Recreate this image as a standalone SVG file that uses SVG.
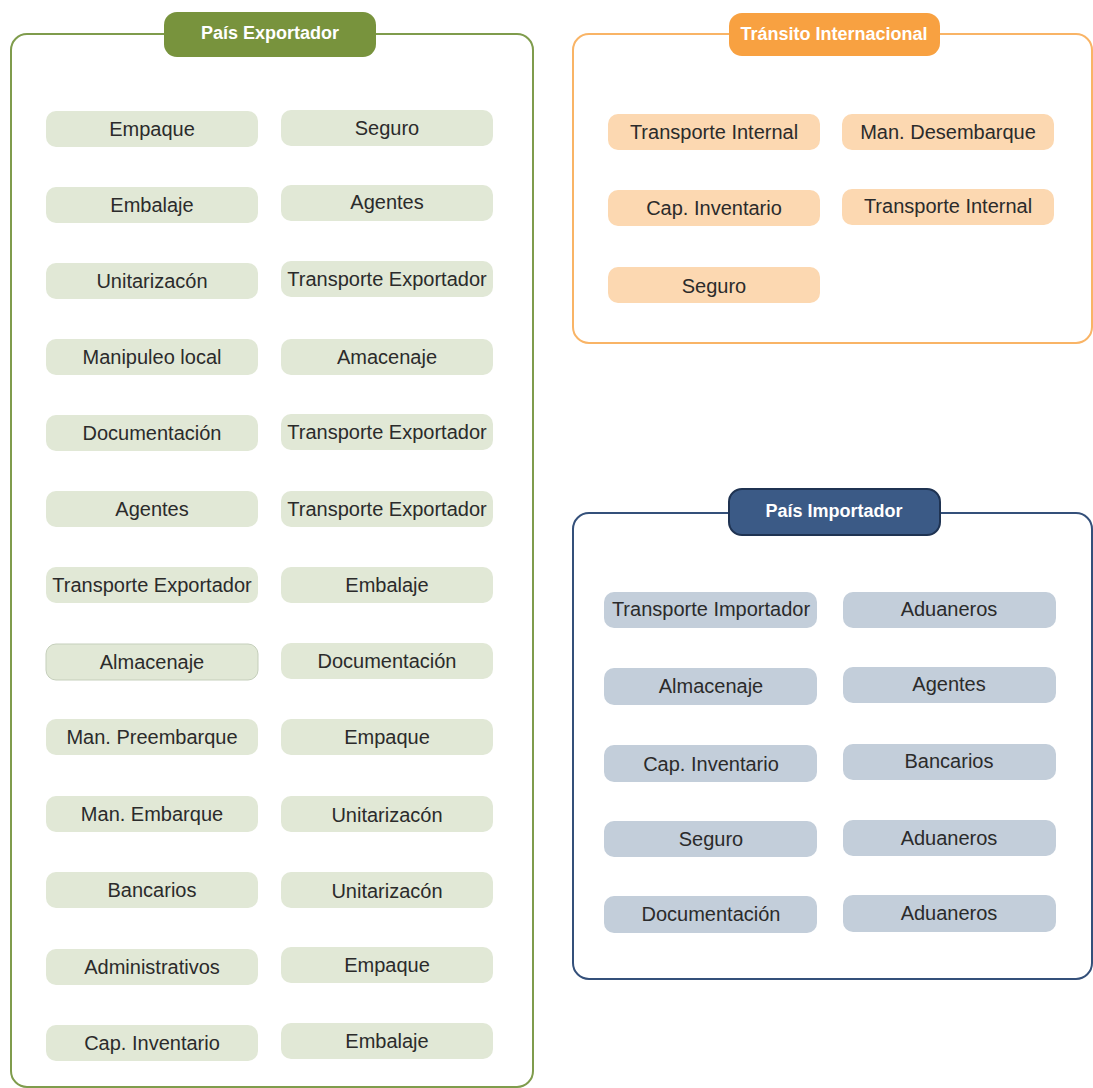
<svg xmlns="http://www.w3.org/2000/svg" width="1093" height="1088" viewBox="0 0 1093 1088">
<style>
.t{font-family:"Liberation Sans",Arial,sans-serif;font-size:20px;fill:#2b2b2b;text-anchor:middle;dominant-baseline:central}
.h{font-family:"Liberation Sans",Arial,sans-serif;font-size:18px;font-weight:bold;fill:#ffffff;text-anchor:middle;dominant-baseline:central}
.g{fill:#e1e8d6}
.o{fill:#fcd8b1}
.b{fill:#c3ceda}
</style>
<rect width="1093" height="1088" fill="#ffffff"/>
<g id="panel-exportador">
<rect x="11" y="34" width="522" height="1053" rx="16" fill="none" stroke="#7f9c4c" stroke-width="2"/>
<rect x="164" y="12" width="212" height="45" rx="13" fill="#78933d"/>
<text class="h" x="270" y="33">País Exportador</text>
</g>
<g id="panel-transito">
<rect x="573" y="34" width="519" height="309" rx="16" fill="none" stroke="#f9b466" stroke-width="2"/>
<rect x="729" y="13" width="211" height="43" rx="13" fill="#f8a141"/>
<text class="h" x="834" y="34">Tránsito Internacional</text>
</g>
<g id="panel-importador">
<rect x="573" y="513" width="519" height="466" rx="16" fill="none" stroke="#34507a" stroke-width="2"/>
<rect x="729" y="489" width="211" height="46" rx="13" fill="#3b5a86" stroke="#1f3352" stroke-width="2"/>
<text class="h" x="834" y="511">País Importador</text>
</g>
<g id="exp-l1"><rect class="g" x="46" y="111" width="212" height="36" rx="10"/><text class="t" x="152" y="129">Empaque</text></g>
<g id="exp-r1"><rect class="g" x="281" y="110" width="212" height="36" rx="10"/><text class="t" x="387" y="128">Seguro</text></g>
<g id="exp-l2"><rect class="g" x="46" y="187" width="212" height="36" rx="10"/><text class="t" x="152" y="205">Embalaje</text></g>
<g id="exp-r2"><rect class="g" x="281" y="185" width="212" height="36" rx="10"/><text class="t" x="387" y="202">Agentes</text></g>
<g id="exp-l3"><rect class="g" x="46" y="263" width="212" height="36" rx="10"/><text class="t" x="152" y="281">Unitarizacón</text></g>
<g id="exp-r3"><rect class="g" x="281" y="261" width="212" height="36" rx="10"/><text class="t" x="387" y="279">Transporte Exportador</text></g>
<g id="exp-l4"><rect class="g" x="46" y="339" width="212" height="36" rx="10"/><text class="t" x="152" y="357">Manipuleo local</text></g>
<g id="exp-r4"><rect class="g" x="281" y="339" width="212" height="36" rx="10"/><text class="t" x="387" y="357">Amacenaje</text></g>
<g id="exp-l5"><rect class="g" x="46" y="415" width="212" height="36" rx="10"/><text class="t" x="152" y="433">Documentación</text></g>
<g id="exp-r5"><rect class="g" x="281" y="414" width="212" height="36" rx="10"/><text class="t" x="387" y="432">Transporte Exportador</text></g>
<g id="exp-l6"><rect class="g" x="46" y="491" width="212" height="36" rx="10"/><text class="t" x="152" y="509">Agentes</text></g>
<g id="exp-r6"><rect class="g" x="281" y="491" width="212" height="36" rx="10"/><text class="t" x="387" y="509">Transporte Exportador</text></g>
<g id="exp-l7"><rect class="g" x="46" y="567" width="212" height="36" rx="10"/><text class="t" x="152" y="585">Transporte Exportador</text></g>
<g id="exp-r7"><rect class="g" x="281" y="567" width="212" height="36" rx="10"/><text class="t" x="387" y="585">Embalaje</text></g>
<g id="exp-l8"><rect class="g" x="46" y="644" width="212" height="36" rx="10" stroke="#c5cfbb" stroke-width="1"/><text class="t" x="152" y="662">Almacenaje</text></g>
<g id="exp-r8"><rect class="g" x="281" y="643" width="212" height="36" rx="10"/><text class="t" x="387" y="661">Documentación</text></g>
<g id="exp-l9"><rect class="g" x="46" y="719" width="212" height="36" rx="10"/><text class="t" x="152" y="737">Man. Preembarque</text></g>
<g id="exp-r9"><rect class="g" x="281" y="719" width="212" height="36" rx="10"/><text class="t" x="387" y="737">Empaque</text></g>
<g id="exp-l10"><rect class="g" x="46" y="796" width="212" height="36" rx="10"/><text class="t" x="152" y="814">Man. Embarque</text></g>
<g id="exp-r10"><rect class="g" x="281" y="796" width="212" height="36" rx="10"/><text class="t" x="387" y="815">Unitarizacón</text></g>
<g id="exp-l11"><rect class="g" x="46" y="872" width="212" height="36" rx="10"/><text class="t" x="152" y="890">Bancarios</text></g>
<g id="exp-r11"><rect class="g" x="281" y="872" width="212" height="36" rx="10"/><text class="t" x="387" y="891">Unitarizacón</text></g>
<g id="exp-l12"><rect class="g" x="46" y="949" width="212" height="36" rx="10"/><text class="t" x="152" y="967">Administrativos</text></g>
<g id="exp-r12"><rect class="g" x="281" y="947" width="212" height="36" rx="10"/><text class="t" x="387" y="965">Empaque</text></g>
<g id="exp-l13"><rect class="g" x="46" y="1025" width="212" height="36" rx="10"/><text class="t" x="152" y="1043">Cap. Inventario</text></g>
<g id="exp-r13"><rect class="g" x="281" y="1023" width="212" height="36" rx="10"/><text class="t" x="387" y="1041">Embalaje</text></g>
<g id="tra-l1"><rect class="o" x="608" y="114" width="212" height="36" rx="10"/><text class="t" x="714" y="132">Transporte Internal</text></g>
<g id="tra-r1"><rect class="o" x="842" y="114" width="212" height="36" rx="10"/><text class="t" x="948" y="132">Man. Desembarque</text></g>
<g id="tra-l2"><rect class="o" x="608" y="190" width="212" height="36" rx="10"/><text class="t" x="714" y="208">Cap. Inventario</text></g>
<g id="tra-r2"><rect class="o" x="842" y="189" width="212" height="36" rx="10"/><text class="t" x="948" y="206">Transporte Internal</text></g>
<g id="tra-l3"><rect class="o" x="608" y="267" width="212" height="36" rx="10"/><text class="t" x="714" y="286">Seguro</text></g>
<g id="imp-l1"><rect class="b" x="604" y="592" width="213" height="36" rx="10"/><text class="t" x="711" y="609">Transporte Importador</text></g>
<g id="imp-r1"><rect class="b" x="843" y="592" width="213" height="36" rx="10"/><text class="t" x="949" y="609">Aduaneros</text></g>
<g id="imp-l2"><rect class="b" x="604" y="668" width="213" height="37" rx="10"/><text class="t" x="711" y="686">Almacenaje</text></g>
<g id="imp-r2"><rect class="b" x="843" y="667" width="213" height="36" rx="10"/><text class="t" x="949" y="684">Agentes</text></g>
<g id="imp-l3"><rect class="b" x="604" y="745" width="213" height="37" rx="10"/><text class="t" x="711" y="764">Cap. Inventario</text></g>
<g id="imp-r3"><rect class="b" x="843" y="744" width="213" height="36" rx="10"/><text class="t" x="949" y="761">Bancarios</text></g>
<g id="imp-l4"><rect class="b" x="604" y="821" width="213" height="36" rx="10"/><text class="t" x="711" y="839">Seguro</text></g>
<g id="imp-r4"><rect class="b" x="843" y="820" width="213" height="36" rx="10"/><text class="t" x="949" y="838">Aduaneros</text></g>
<g id="imp-l5"><rect class="b" x="604" y="896" width="213" height="37" rx="10"/><text class="t" x="711" y="914">Documentación</text></g>
<g id="imp-r5"><rect class="b" x="843" y="895" width="213" height="37" rx="10"/><text class="t" x="949" y="913">Aduaneros</text></g>
<g id="connectors"></g>
</svg>
